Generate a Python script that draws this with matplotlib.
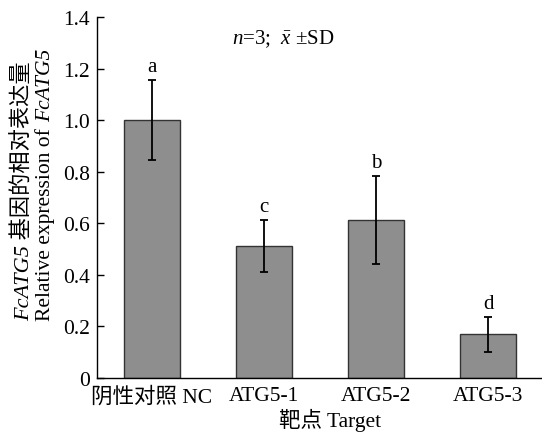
import matplotlib
matplotlib.use("Agg")
import matplotlib.pyplot as plt
import numpy as np

categories = ["阴性对照 NC", "ATG5-1", "ATG5-2", "ATG5-3"]
values = [1.0, 0.513, 0.613, 0.170]
errors = [0.155, 0.100, 0.172, 0.068]
letters = ["a", "c", "b", "d"]
yticks = [0, 0.2, 0.4, 0.6, 0.8, 1.0, 1.2, 1.4]
yticklabels = ["0", "0.2", "0.4", "0.6", "0.8", "1.0", "1.2", "1.4"]

FAM = ["Liberation Serif", "Noto Sans CJK SC"]
plt.rcParams["font.family"] = FAM
plt.rcParams["mathtext.fontset"] = "custom"
plt.rcParams["mathtext.rm"] = "Liberation Serif"
plt.rcParams["mathtext.it"] = "Liberation Serif:italic"

W, H = 542, 435
fig = plt.figure(figsize=(W / 100, H / 100), dpi=100)
ax = fig.add_axes([97 / W, 1 - 379 / H, (542 - 97) / W, (379 - 18) / H])

FS = 15.5
x = np.arange(len(categories))
ax.bar(x, values, width=0.5, color="#8e8e8e", edgecolor="#333333", linewidth=1.0, zorder=2)
ax.errorbar(x, values, yerr=errors, fmt="none", ecolor="black", elinewidth=1.3,
            capsize=3, capthick=1.3, zorder=3)
for xi, v, e, l in zip(x, values, errors, letters):
    ax.text(xi, v + e + 0.015, l, ha="center", va="bottom", fontsize=15)

ax.set_xlim(-0.49, 3.48)
ax.set_ylim(0, 1.4)
ax.set_yticks(yticks)
ax.set_yticklabels(yticklabels, fontsize=FS)
ax.set_xticks(x)
ax.set_xticklabels(categories, fontsize=FS)
ax.tick_params(axis="both", direction="in", length=5, width=1, colors="black")
ax.tick_params(axis="x", pad=6)
ax.tick_params(axis="y", pad=5)
for s in ["top", "right"]:
    ax.spines[s].set_visible(False)
for s in ["left", "bottom"]:
    ax.spines[s].set_linewidth(1.0)

ax.set_xlabel("靶点 Target", fontsize=FS, labelpad=0)
ax.xaxis.set_label_coords((330 - 97) / (542 - 97), -0.083)

ax.text((232 - 97) / (542 - 97), 1 - (39 - 18) / (379 - 18),
        r"$n$=3;  $\bar{x}$ ±SD", ha="left", va="center", fontsize=15,
        transform=ax.transAxes)

# rotated y label built from pieces (italic gene names)
fig.canvas.draw()
renderer = fig.canvas.get_renderer()

def vlabel(xb_px, pieces, cy_px, fs):
    widths = []
    for s, st in pieces:
        t = fig.text(0, 0, s, fontsize=fs, style=st, family=FAM)
        widths.append(t.get_window_extent(renderer).width)
        t.remove()
    total = sum(widths)
    y = (H - cy_px) - total / 2
    for (s, st), w in zip(pieces, widths):
        fig.text(xb_px / W, y / H, s, fontsize=fs, style=st, family=FAM,
                 rotation=90, rotation_mode="anchor", ha="left", va="baseline")
        y += w

vlabel(29, [("FcATG5", "italic"), (" 基因的相对表达量", "normal")], 191, 16)
vlabel(50, [("Relative expression of ", "normal"), ("FcATG5", "italic")], 185, 15.5)

fig.savefig("out.png", dpi=100)
